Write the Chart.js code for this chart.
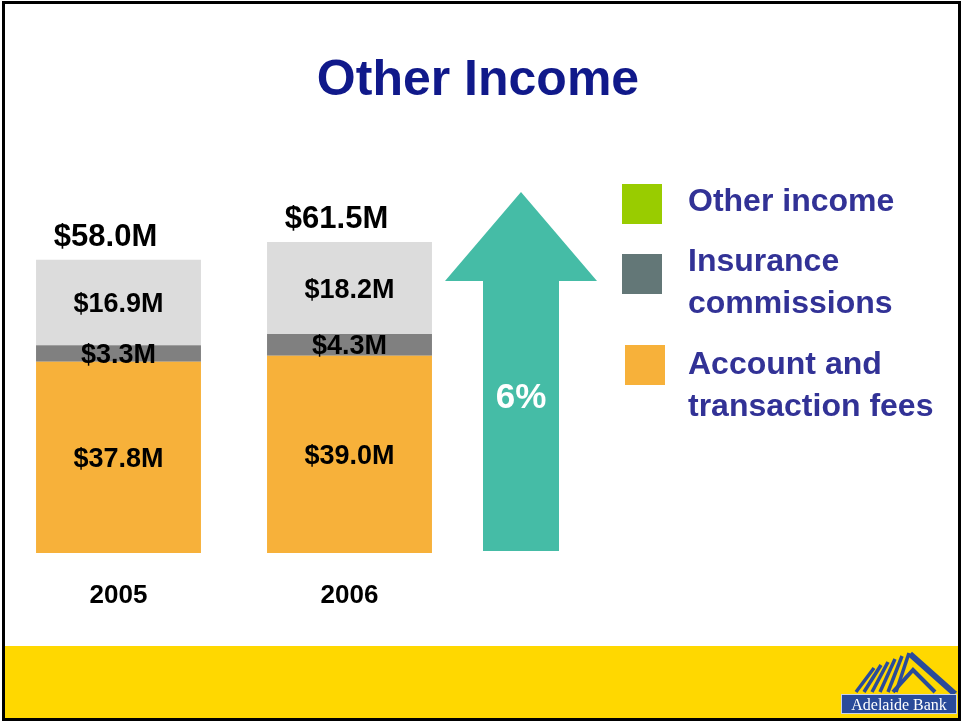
<!DOCTYPE html>
<html lang="en">
<head>
    <meta charset="UTF-8">
    <title>Other Income</title>
    <script src="https://cdn.jsdelivr.net/npm/chart.js"></script>
    <style>
        html, body { margin: 0; padding: 0; background: #fff; }
        .slide { position: relative; width: 962px; height: 722px; }
    </style>
</head>
<body>
    <div class="slide">
        <canvas id="incomeChart" width="962" height="722"></canvas>
    </div>
    <script>
        // données ($M)
        const years = ['2005', '2006'];
        const accountFees = [37.8, 39.0];
        const insuranceComm = [3.3, 4.3];
        const otherIncome = [16.9, 18.2];
        const growthLabel = '6%';
        const legendLabels = [['Other income'], ['Insurance', 'commissions'], ['Account and', 'transaction fees']];

        const FONT = '"Liberation Sans", Arial, sans-serif';
        const barColors = ['#f7b13a', '#808080', '#dcdcdc'];
        const legendColors = ['#99cc00', '#637777', '#f7b13a'];

        function fmt(v) { return '$' + v.toFixed(1) + 'M'; }

        // fond, cadre, bandeau jaune, logo
        const slideBg = {
            id: 'slideBg',
            beforeDraw(chart) {
                const c = chart.ctx;
                c.save();
                c.fillStyle = '#fff';
                c.fillRect(0, 0, 962, 722);
                c.fillStyle = '#ffd800';
                c.fillRect(4, 646, 955, 74);
                // titre
                c.fillStyle = '#10198a';
                c.font = 'bold 50px ' + FONT;
                c.textAlign = 'center';
                c.textBaseline = 'alphabetic';
                c.fillText('Other Income', 478, 95);
                c.restore();
            },
            afterDraw(chart) {
                const c = chart.ctx;
                c.save();
                // flèche
                c.fillStyle = '#45bca6';
                c.beginPath();
                c.moveTo(521, 192);
                c.lineTo(597, 281);
                c.lineTo(559, 281);
                c.lineTo(559, 551);
                c.lineTo(483, 551);
                c.lineTo(483, 281);
                c.lineTo(445, 281);
                c.closePath();
                c.fill();
                c.fillStyle = '#fff';
                c.font = 'bold 35px ' + FONT;
                c.textAlign = 'center';
                c.fillText(growthLabel, 521, 408);

                // légende
                const boxes = [[622, 184], [622, 254], [625, 345]];
                const lineY = [[211], [271, 313], [374, 416]];
                legendLabels.forEach((lines, i) => {
                    c.fillStyle = legendColors[i];
                    c.fillRect(boxes[i][0], boxes[i][1], 40, 40);
                    c.fillStyle = '#323296';
                    c.font = 'bold 32px ' + FONT;
                    c.textAlign = 'left';
                    lines.forEach((t, j) => c.fillText(t, 688, lineY[i][j]));
                });

                // logo
                c.strokeStyle = '#2a4b9a';
                c.lineCap = 'butt';
                c.lineWidth = 6;
                c.beginPath();
                c.moveTo(910, 654); c.lineTo(955, 694);
                c.stroke();
                c.lineWidth = 4;
                c.beginPath();
                c.moveTo(893, 692); c.lineTo(913, 670); c.lineTo(935, 692);
                c.stroke();
                c.lineWidth = 3.5;
                for (let k = 0; k < 6; k++) {
                    c.beginPath();
                    c.moveTo(856 + k * 8, 692);
                    c.lineTo(874 + k * 7, 668 - k * 3);
                    c.stroke();
                }
                c.fillStyle = '#2a4b9a';
                c.fillRect(841, 694, 116, 20);
                c.strokeStyle = '#c9d2e8';
                c.lineWidth = 1;
                c.strokeRect(841.5, 694.5, 115, 19);
                c.fillStyle = '#fff';
                c.font = '16px "Liberation Serif", "DejaVu Serif", serif';
                c.textAlign = 'center';
                c.fillText('Adelaide Bank', 899, 710);

                // cadre
                c.strokeStyle = '#000';
                c.lineWidth = 3;
                c.strokeRect(3.5, 2.5, 956, 717);
                c.restore();
            }
        };

        // étiquettes des segments, totaux, années
        const barLabels = {
            id: 'barLabels',
            afterDatasetsDraw(chart) {
                const c = chart.ctx;
                const yScale = chart.scales.y;
                c.save();
                c.fillStyle = '#000';
                c.textAlign = 'center';
                c.textBaseline = 'alphabetic';
                chart.data.datasets.forEach((ds, di) => {
                    const meta = chart.getDatasetMeta(di);
                    meta.data.forEach((bar, i) => {
                        const mid = (bar.y + bar.base) / 2;
                        c.font = 'bold 27px ' + FONT;
                        c.fillText(fmt(ds.data[i]), bar.x, mid + 9.5);
                    });
                });
                const meta0 = chart.getDatasetMeta(0);
                years.forEach((yr, i) => {
                    const total = accountFees[i] + insuranceComm[i] + otherIncome[i];
                    const x = meta0.data[i].x;
                    const top = yScale.getPixelForValue(total);
                    c.font = 'bold 31px ' + FONT;
                    c.fillText(fmt(total), x - 13, top - 14);
                    c.font = 'bold 26px ' + FONT;
                    c.fillText(yr, x, 603);
                });
                c.restore();
            }
        };

        const ctx = document.getElementById('incomeChart').getContext('2d');
        new Chart(ctx, {
            type: 'bar',
            data: {
                labels: years,
                datasets: [
                    { label: 'Account and transaction fees', data: accountFees, backgroundColor: barColors[0] },
                    { label: 'Insurance commissions', data: insuranceComm, backgroundColor: barColors[1] },
                    { label: 'Other income', data: otherIncome, backgroundColor: barColors[2] }
                ]
            },
            options: {
                responsive: false,
                animation: false,
                layout: { padding: { left: 3, right: 497, top: 199, bottom: 169 } },
                datasets: { bar: { barPercentage: 1, categoryPercentage: 0.714, borderWidth: 0 } },
                plugins: { legend: { display: false }, tooltip: { enabled: false } },
                scales: {
                    x: { display: false, stacked: true },
                    y: { display: false, stacked: true, min: 0, max: 70 }
                }
            },
            plugins: [slideBg, barLabels]
        });
    </script>
</body>
</html>
